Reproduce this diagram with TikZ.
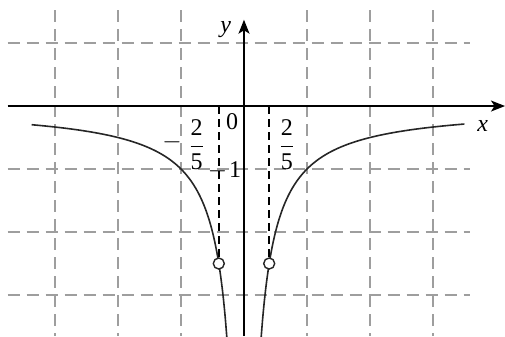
\documentclass[tikz,border=0pt]{standalone}
\usepackage{fontspec}
\setmainfont{Liberation Serif}
\usetikzlibrary{arrows.meta}
\newcommand{\myfrac}[2]{{\displaystyle{\hbox{#1}\over\hbox{#2}}}}
\begin{document}
\begin{tikzpicture}[x=63pt,y=63pt,
  gridline/.style={draw=black!38,line width=1.3pt,dash pattern=on 12pt off 7pt},
  axisline/.style={draw=black,line width=1.6pt,-{Stealth[length=14pt,width=11pt,inset=3.5pt]}},
  curveline/.style={draw=black!85,line width=1.6pt},
  asym/.style={draw=black,line width=1.5pt,dash pattern=on 8pt off 5pt},
  hole/.style={circle,draw=black!85,fill=white,line width=1.4pt,minimum size=11pt,inner sep=0pt},
  lab/.style={font=\fontsize{24}{26}\selectfont,inner sep=0pt}]
\useasboundingbox (-3.873,-3.651) rectangle (4.143,1.683);
% grid
\foreach \gx in {-3,-2,-1,1,2,3}
  \draw[gridline] (\gx,1.52) -- (\gx,-3.651);
\foreach \gy in {1,-1,-2,-3}
  \draw[gridline] (-3.75,\gy) -- (3.59,\gy);
% axes
\coordinate (xs) at (-3.75,0);
\coordinate (xe) at (4.143,0);
\coordinate (ys) at (0,-3.651);
\coordinate (ye) at (0,1.37);
\draw[axisline] (xs) -- (xe);
\draw[axisline] (ys) -- (ye);
% curves
\draw[curveline] plot[domain=-3.37:-0.27,samples=120,smooth] (\x,{1/\x});
\draw[curveline] plot[domain=0.27:3.5,samples=120,smooth] (\x,{-1/\x});
% holes
\node[hole] (hl) at (-0.4,-2.5) {};
\node[hole] (hr) at (0.4,-2.5) {};
\coordinate (al) at (-0.4,0);
\coordinate (ar) at (0.4,0);
\draw[asym] (al) -- (hl.north);
\draw[asym] (ar) -- (hr.north);
% labels
\node[lab] (ly) at (-0.29,1.22) {\itshape y};
\node[lab] (lx) at (3.79,-0.32) {\itshape x};
\node[lab] (l0) at (-0.19,-0.24) {0};
\node[lab] (lm1) at (-0.31,-1.02) {$-$\kern2pt 1};
\node[lab] (lminus) at (-1.14,-0.58) {$-$};
\node[lab] (lfl) at (-0.75,-0.62) {$\myfrac{2}{5}$};
\node[lab] (lfr) at (0.68,-0.62) {$\myfrac{2}{5}$};
\end{tikzpicture}
\end{document}
